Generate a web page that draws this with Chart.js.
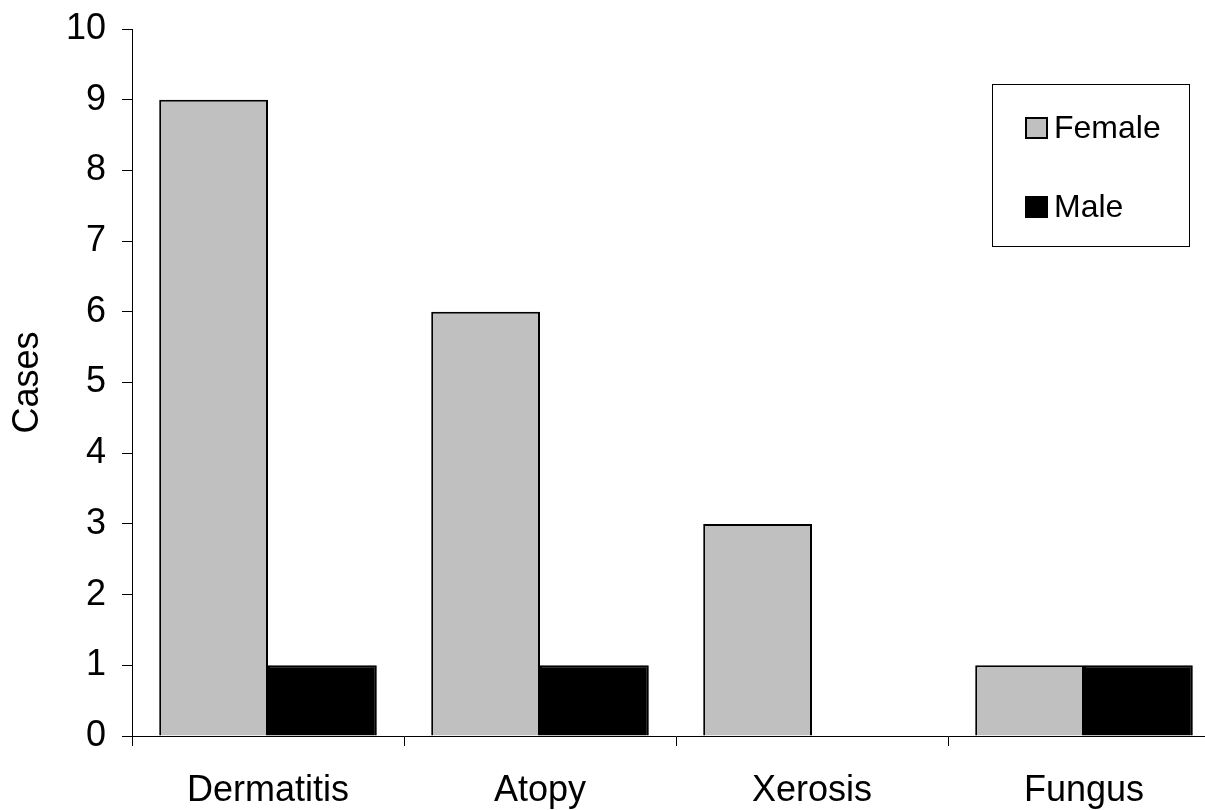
<!DOCTYPE html>
<html>
<head>
<meta charset="utf-8">
<title>Cases</title>
<script src="https://cdn.jsdelivr.net/npm/chart.js@4/dist/chart.umd.min.js"></script>
<style>
html, body { margin: 0; padding: 0; background: #fff; overflow: hidden; }
#wrap { position: relative; width: 1230px; height: 810px; }
</style>
</head>
<body>
<div id="wrap"><canvas id="chart"></canvas></div>
<script>
var categories = ['Dermatitis', 'Atopy', 'Xerosis', 'Fungus'];
var femaleCases = [9, 6, 3, 1];
var maleCases = [1, 1, 0, 1];
var yTickValues = [0, 1, 2, 3, 4, 5, 6, 7, 8, 9, 10];

var FONT = '"Liberation Sans", Arial, sans-serif';

// legend drawn as a framed box inside the plot, like the original
var boxLegend = {
	id: 'boxLegend',
	afterDatasetsDraw: function (chart) {
		var ctx = chart.ctx;
		ctx.save();
		ctx.fillStyle = '#fff';
		ctx.fillRect(992.5, 84.5, 197, 162);
		ctx.strokeStyle = '#000';
		ctx.lineWidth = 1;
		ctx.strokeRect(992.5, 84.5, 197, 162);
		ctx.font = '32px ' + FONT;
		ctx.textBaseline = 'alphabetic';
		chart.data.datasets.forEach(function (ds, i) {
			var y = 118 + i * 79;
			ctx.fillStyle = ds.backgroundColor;
			ctx.fillRect(1026, y, 21, 20);
			ctx.lineWidth = 2;
			ctx.strokeRect(1026, y, 21, 20);
			ctx.fillStyle = '#000';
			ctx.fillText(ds.label, 1054, y + 20);
		});
		ctx.restore();
	}
};

new Chart(document.getElementById('chart'), {
	type: 'bar',
	data: {
		labels: categories,
		datasets: [{
			label: 'Female',
			data: femaleCases,
			backgroundColor: '#c0c0c0',
			borderColor: '#000',
			borderWidth: 2
		}, {
			label: 'Male',
			data: maleCases,
			backgroundColor: '#000',
			borderColor: '#000',
			borderWidth: 2
		}]
	},
	options: {
		responsive: true,
		maintainAspectRatio: false,
		animation: false,
		categoryPercentage: 0.8,
		barPercentage: 1.0,
		layout: { padding: { top: 29, right: 10, left: 0, bottom: 0 } },
		plugins: {
			legend: { display: false },
			tooltip: { enabled: false }
		},
		scales: {
			x: {
				grid: { offset: true, drawOnChartArea: false, drawTicks: true, tickLength: 10, color: '#000' },
				border: { color: '#000', width: 1 },
				ticks: { color: '#000', font: { family: FONT, size: 36 }, padding: 23, maxRotation: 0 },
				afterFit: function (scale) {
					scale.height = 74;
					scale.paddingLeft = 0;
					scale.paddingRight = 0;
				}
			},
			y: {
				min: 0,
				max: 10,
				afterBuildTicks: function (scale) {
					scale.ticks = yTickValues.map(function (v) { return { value: v }; });
				},
				grid: { drawOnChartArea: false, drawTicks: true, tickLength: 10, color: '#000' },
				border: { color: '#000', width: 1 },
				ticks: { color: '#000', font: { family: FONT, size: 36 }, padding: 16 },
				title: {
					display: true,
					text: 'Cases',
					color: '#000',
					font: { family: FONT, size: 36 },
					padding: 6
				},
				afterFit: function (scale) {
					scale.width = 132;
					scale.paddingTop = 0;
					scale.paddingBottom = 0;
				}
			}
		}
	},
	plugins: [boxLegend]
});
</script>
</body>
</html>
